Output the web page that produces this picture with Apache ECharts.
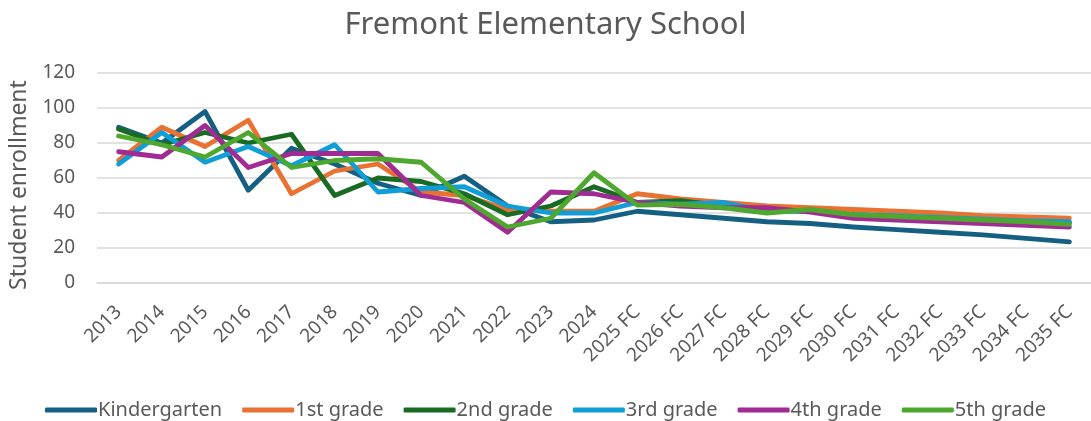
<!DOCTYPE html>
<html>
<head>
<meta charset="utf-8">
<script src="https://cdn.jsdelivr.net/npm/echarts@6/dist/echarts.min.js"></script>
<style>
  html, body { margin: 0; padding: 0; background: #fff; }
  #chart { width: 1091px; height: 421px; }
</style>
</head>
<body>
<div id="chart"></div>
<script>
// 数据
var years = ["2013", "2014", "2015", "2016", "2017", "2018", "2019", "2020", "2021", "2022", "2023", "2024",
  "2025 FC", "2026 FC", "2027 FC", "2028 FC", "2029 FC", "2030 FC", "2031 FC", "2032 FC", "2033 FC", "2034 FC", "2035 FC"];
var yTicks = [0, 20, 40, 60, 80, 100, 120];

var kindergarten = [89, 80, 98, 53, 77, 68, 57, 50, 61, 44, 35, 36, 41, 39, 37, 35, 34, 32, 30.5, 29, 27.5, 25.5, 23.5];
var grade1 = [70, 89, 78, 93, 51, 64, 68, 52, 50, 42, 41, 41, 51, 48, 46, 44, 43, 42, 41, 40, 38.5, 37.8, 37];
var grade2 = [88, 79, 86, 80, 85, 50, 60, 58, 51, 39, 44, 55, 46, 47, 44, 42, 41, 39, 38, 37, 36, 35, 34.5];
var grade3 = [68, 86, 69, 78, 67, 79, 52, 54, 55, 44, 40, 40, 46, 45, 46, 41, 41, 39, 38.5, 37.5, 36.5, 35.5, 35];
var grade4 = [75, 72, 90, 66, 74, 74, 74, 50, 46, 29, 52, 51, 46, 44, 43, 43, 40.5, 37, 36, 35, 34, 33, 32];
var grade5 = [84, 79, 72, 86, 66, 70, 71, 69, 48, 32, 37, 63, 44.5, 45, 43, 40, 42, 39, 38, 37, 36, 35, 33.5];

var seriesNames = ["Kindergarten", "1st grade", "2nd grade", "3rd grade", "4th grade", "5th grade"];
var seriesData = [kindergarten, grade1, grade2, grade3, grade4, grade5];
var colors = ["#156082", "#e97132", "#196b24", "#0f9ed5", "#a02b93", "#4ea72e"];

(function () {
  var myChart = echarts.init(document.getElementById("chart"));
  var font = "'Noto Sans', 'Open Sans', sans-serif";
  var textColor = "#595959";

  var series = seriesNames.map(function (name, i) {
    return {
      name: name,
      type: "line",
      data: seriesData[i],
      symbol: "none",
      smooth: false,
      lineStyle: { width: 4.8, color: colors[i], cap: "round", join: "round" },
      itemStyle: { color: colors[i] }
    };
  });

  var option = {
    animation: false,
    color: colors,
    title: {
      text: "Fremont Elementary School",
      left: "center",
      top: 5,
      textStyle: { color: textColor, fontSize: 31, fontWeight: "normal", fontFamily: font }
    },
    legend: {
      bottom: -4,
      left: "center",
      icon: "roundRect",
      itemWidth: 52,
      itemHeight: 5,
      itemGap: 20,
      textStyle: { color: textColor, fontSize: 20, fontFamily: font, padding: [0, 0, 0, -4] },
      data: seriesNames
    },
    grid: {
      left: 97,
      right: -6,
      top: 73,
      bottom: 138
    },
    xAxis: {
      type: "category",
      data: years,
      boundaryGap: true,
      axisTick: { show: false },
      axisLine: { lineStyle: { color: "#d9d9d9", width: 1.5 } },
      axisLabel: {
        color: textColor,
        fontSize: 19,
        fontFamily: font,
        rotate: 45,
        margin: 26,
        padding: [8, 0, 0, 0],
        interval: 0
      }
    },
    yAxis: {
      type: "value",
      min: yTicks[0],
      max: yTicks[yTicks.length - 1],
      interval: 20,
      name: "Student enrollment",
      nameLocation: "middle",
      nameGap: 66,
      nameRotate: 90,
      nameTextStyle: { color: textColor, fontSize: 23, fontFamily: font, padding: [0, 14, 0, 0] },
      axisLine: { show: false },
      axisTick: { show: false },
      axisLabel: { color: textColor, fontSize: 19, fontFamily: font, margin: 22 },
      splitLine: { lineStyle: { color: "#d9d9d9", width: 1.5 } }
    },
    series: series
  };

  myChart.setOption(option);
  window.addEventListener("resize", function () {
    myChart.resize();
  });
})();
</script>
</body>
</html>
